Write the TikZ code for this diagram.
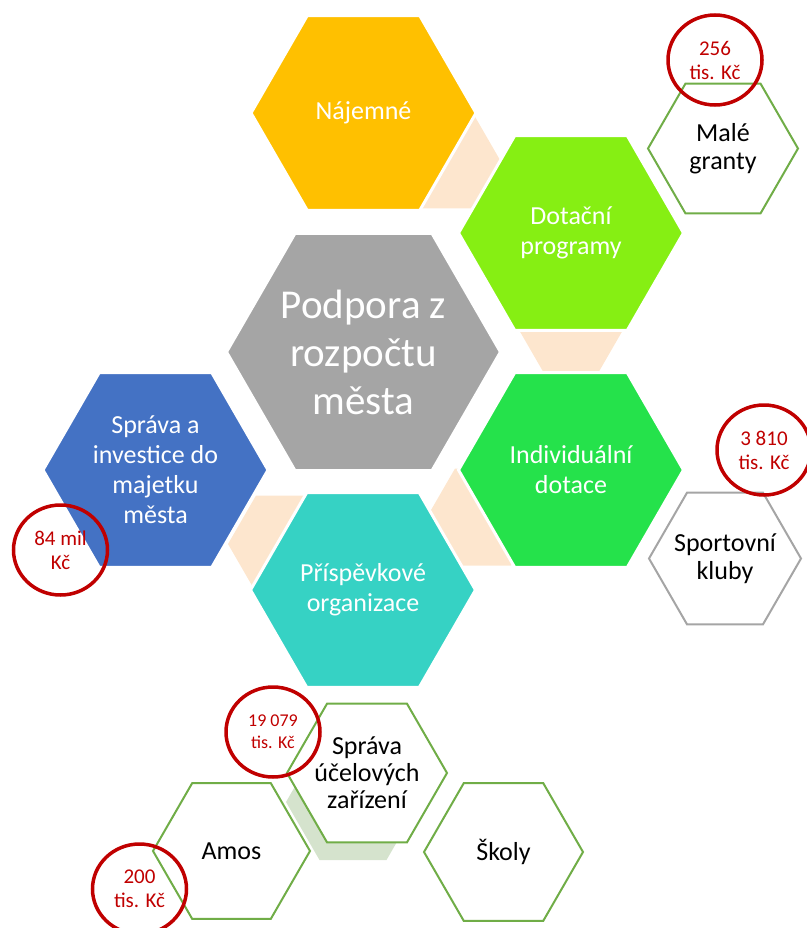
\documentclass[tikz,border=0pt]{standalone}
\usepackage{fontspec}
\setmainfont{Carlito}
\usetikzlibrary{shapes}

\definecolor{orangeHex}{RGB}{255,192,0}
\definecolor{limeHex}{RGB}{134,239,19}
\definecolor{grayHex}{RGB}{165,165,165}
\definecolor{greenHex}{RGB}{37,226,75}
\definecolor{blueHex}{RGB}{68,114,196}
\definecolor{tealHex}{RGB}{54,210,196}
\definecolor{peach}{RGB}{253,230,206}
\definecolor{paleGreen}{RGB}{213,227,205}
\definecolor{lineGreen}{RGB}{112,173,71}
\definecolor{ringRed}{RGB}{192,0,0}

\begin{document}
\begin{tikzpicture}[x=1pt,y=-1pt]
	\tikzstyle{hexa}=[regular polygon,regular polygon sides=6,inner sep=0pt,align=center]
	\tikzstyle{bigHex}=[hexa,minimum size=225pt,draw=white,line width=3pt,text=white,font=\fontsize{26}{30}\selectfont]
	\tikzstyle{gapHex}=[hexa,minimum size=112pt,fill=peach]
	\tikzstyle{smallHex}=[hexa,inner sep=-20pt,fill=white,draw=lineGreen,line width=2pt,font=\fontsize{26}{28}\selectfont]
	\tikzstyle{ring}=[ellipse,draw=ringRed,line width=3.5pt,minimum width=94pt,minimum height=90pt,inner sep=0pt,align=center,text=ringRed,font=\fontsize{21}{24}\selectfont]

	\useasboundingbox (0,0) rectangle (806,928);

	%gaps between the hexagons
	\node[gapHex] (gapTop) at (444,160) {};
	\node[gapHex] (gapRight) at (571,323) {};
	\node[gapHex] (gapLow) at (483,517) {};
	\node[gapHex] (gapLeft) at (284,544) {};

	%budget
	\node[bigHex,fill=orangeHex] (rent) at (363.5,113) {Nájemné};
	\node[bigHex,fill=limeHex] (grantProg) at (571,233) {Dotační\\programy};
	\node[bigHex,fill=grayHex,minimum size=274pt,font=\fontsize{41}{48}\selectfont] (budget) at (363.5,352) {Podpora z\\rozpočtu\\města};
	\node[bigHex,fill=greenHex] (single) at (571,470) {Individuální\\dotace};
	\node[bigHex,fill=blueHex] (property) at (155.5,470) {Správa a\\investice do\\majetku\\města};
	\node[bigHex,fill=tealHex] (orgs) at (363,590) {Příspěvkové\\organizace};

	%receivers
	\node[hexa,fill=paleGreen,minimum size=134pt] (shade) at (353,802) {};
	\node[smallHex,minimum size=150pt] (smallGrants) at (723,148.5) {Malé\\granty};
	\node[smallHex,draw=grayHex,minimum size=152pt] (clubs) at (725,558.5) {Sportovní\\kluby};
	\node[smallHex,minimum size=160pt,font=\fontsize{26}{27}\selectfont] (facilities) at (367,773) {Správa\\účelových\\zařízení};
	\node[smallHex,minimum size=157pt] (amos) at (231.5,851) {Amos};
	\node[smallHex,minimum size=159pt] (schools) at (503.5,852) {Školy};

	%amounts
	\node[ring] (costGrants) at (715,60) {256\\tis. Kč};
	\node[ring] (costClubs) at (764,450) {3 810\\tis. Kč};
	\node[ring] (costProperty) at (60.5,550) {84 mil\\Kč};
	\node[ring,font=\fontsize{18}{22}\selectfont] (costFacilities) at (273,732) {19 079\\tis. Kč};
	\node[ring] (costAmos) at (139.5,889) {200\\tis. Kč};
\end{tikzpicture}
\end{document}
